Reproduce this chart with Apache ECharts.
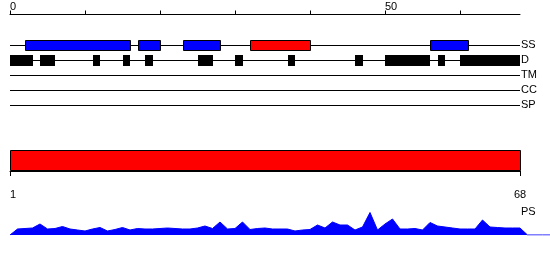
<!DOCTYPE html>
<html>
<head>
<meta charset="utf-8">
<script src="https://cdn.jsdelivr.net/npm/echarts@6/dist/echarts.min.js"></script>
<style>html,body{margin:0;padding:0;background:#fff}#c{width:550px;height:260px}</style>
</head>
<body>
<div id="c"></div>
<script>
// ---- data ----
const seqLength = 68;
const topTicks = [0, 10, 20, 30, 40, 50, 60];
const topTickLabels = [0, 50];
const psTickLabels = [1, 68];
const tracks = ['SS', 'D', 'TM', 'CC', 'SP'];
// secondary structure: helix (blue) and strand (red) segments [start, end]
const ssHelix = [[2, 16], [17, 20], [23, 28], [56, 61]];
const ssStrand = [[32, 40]];
// disorder segments
const disorder = [[0, 3], [4, 6], [11, 12], [15, 16], [18, 19], [25, 27], [30, 31], [37, 38], [46, 47], [50, 56], [57, 58], [60, 68]];
// PS domain
const psDomain = [[1, 68]];
// per-residue profile
const profileX = [0,1,2,3,4,5,6,7,8,9,10,11,12,13,14,15,16,17,18,19,20,21,22,23,24,25,26,27,28,29,30,31,32,33,34,35,36,37,38,39,40,41,42,43,44,45,46,47,48,49,50,51,52,53,54,55,56,57,58,59,60,61,62,63,64,65,66,67,68,69,70,71,72];
const profileY = [0,6,6.5,7,11,6,6.5,8.5,6,5,4,6,7.5,4,5.5,7.5,5,6.5,6,6,6.5,7,6.5,6,6,7,9,6.5,13,6,6.5,13,5.5,6.5,7,6,6,6,4,5,5.5,10,7,13,10,10,5,8,22.5,5,11,16,6,6,6.5,5,12.5,9,8,7,6,6,6,15,8,7.5,7,7,7,0,0,0,0];

const FONT = 'Liberation Sans';
const chart = echarts.init(document.getElementById('c'), null, {renderer: 'canvas'});

function trackIdx(name) { return tracks.indexOf(name); }
function segData(segs, track) { return segs.map(s => [s[0], s[1], trackIdx(track)]); }

function boxRenderer(fill, stroke) {
  return function (params, api) {
    const s = api.coord([api.value(0), api.value(2)]);
    const e = api.coord([api.value(1), api.value(2)]);
    const x0 = Math.round(s[0]), x1 = Math.round(e[0]);
    const yc = Math.round(s[1]);
    return {
      type: 'rect',
      shape: {x: x0 + (stroke ? 0.5 : 0), y: yc - 5 + (stroke ? 0.5 : 0), width: x1 - x0, height: 10 + (stroke ? 0 : 1)},
      style: {fill: fill, stroke: stroke || null, lineWidth: 1}
    };
  };
}

const trackLines = tracks.map((t, i) => [0, seqLength, i]);

const option = {
  animation: false,
  title: {
    text: 'PS', left: 521, top: 206, padding: 0,
    textStyle: {fontFamily: FONT, fontSize: 11, fontWeight: 'normal', color: '#000'}
  },
  grid: [
    {left: 10, width: 510, top: 37.5, height: 75},
    {left: 10, width: 510, top: 150, height: 21},
    {left: 10, right: 0, top: 205, height: 30}
  ],
  xAxis: [
    {
      gridIndex: 0, type: 'value', position: 'top', offset: 23, min: 0, max: seqLength, interval: 10,
      axisLine: {show: true, lineStyle: {color: '#000', width: 1}},
      axisTick: {show: true, length: 4, customValues: topTicks, lineStyle: {color: '#000'}},
      axisLabel: {
        show: true, margin: 2, align: 'left', customValues: topTickLabels,
        fontFamily: FONT, fontSize: 11, color: '#000'
      },
      splitLine: {show: false}
    },
    {
      gridIndex: 1, type: 'value', position: 'bottom', offset: 11, min: psTickLabels[0], max: psTickLabels[1],
      axisLine: {show: true, lineStyle: {color: '#000', width: 1}},
      axisTick: {show: true, length: 5, customValues: psTickLabels, lineStyle: {color: '#000'}},
      axisLabel: {
        show: true, margin: 7, customValues: psTickLabels, fontFamily: FONT, fontSize: 11, color: '#000',
        alignMinLabel: 'left', alignMaxLabel: 'center'
      },
      splitLine: {show: false}
    },
    {
      gridIndex: 2, type: 'value', min: 0, max: 72, show: false
    }
  ],
  yAxis: [
    {
      gridIndex: 0, type: 'category', data: tracks, inverse: true, position: 'right',
      axisLine: {show: false}, axisTick: {show: false}, splitLine: {show: false},
      axisLabel: {margin: 1, align: 'left', fontFamily: FONT, fontSize: 11, color: '#000'}
    },
    {gridIndex: 1, type: 'value', min: 0, max: 1, show: false},
    {gridIndex: 2, type: 'value', min: 0, max: 30, show: false}
  ],
  series: [
    {
      type: 'custom', xAxisIndex: 0, yAxisIndex: 0, data: trackLines, encode: {x: [0, 1], y: 2},
      renderItem: function (params, api) {
        const s = api.coord([api.value(0), api.value(2)]);
        const e = api.coord([api.value(1), api.value(2)]);
        const y = Math.round(s[1]) + 0.5;
        return {type: 'line', shape: {x1: s[0], y1: y, x2: e[0], y2: y}, style: {stroke: '#000', lineWidth: 1}};
      }
    },
    {type: 'custom', xAxisIndex: 0, yAxisIndex: 0, data: segData(ssHelix, 'SS'), encode: {x: [0, 1], y: 2}, renderItem: boxRenderer('#0000ff', '#000')},
    {type: 'custom', xAxisIndex: 0, yAxisIndex: 0, data: segData(ssStrand, 'SS'), encode: {x: [0, 1], y: 2}, renderItem: boxRenderer('#ff0000', '#000')},
    {type: 'custom', xAxisIndex: 0, yAxisIndex: 0, data: segData(disorder, 'D'), encode: {x: [0, 1], y: 2}, renderItem: boxRenderer('#000', null)},
    {
      type: 'custom', xAxisIndex: 1, yAxisIndex: 1, data: psDomain, encode: {x: [0, 1]},
      renderItem: function (params, api) {
        const a = api.coord([api.value(0), 1]);
        const b = api.coord([api.value(1), 0]);
        return {
          type: 'rect',
          shape: {x: Math.round(a[0]) + 0.5, y: Math.round(a[1]) + 0.5, width: Math.round(b[0] - a[0]), height: Math.round(b[1] - a[1]) - 1},
          style: {fill: '#ff0000', stroke: '#000', lineWidth: 1}
        };
      }
    },
    {
      type: 'line', xAxisIndex: 2, yAxisIndex: 2,
      data: profileX.map((x, i) => [x, profileY[i]]),
      symbol: 'none', smooth: false,
      lineStyle: {color: '#0000ff', width: 1},
      areaStyle: {color: '#0000ff', opacity: 1}
    }
  ]
};
chart.setOption(option);
</script>
</body>
</html>
